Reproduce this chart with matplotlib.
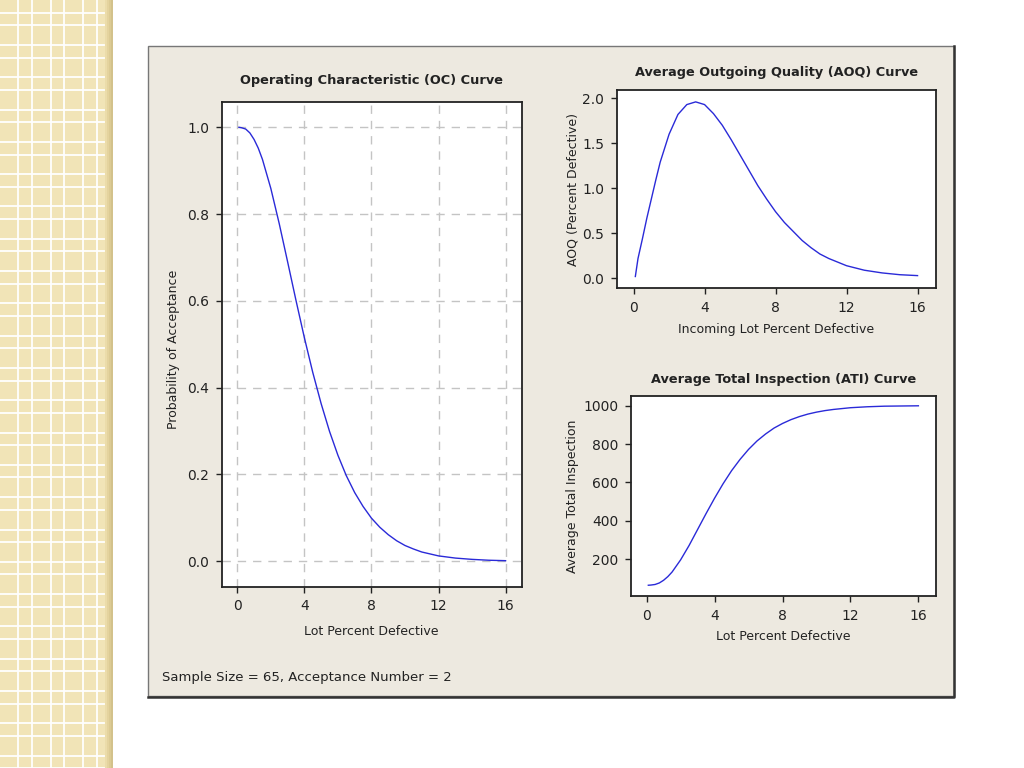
import numpy as np
import matplotlib
matplotlib.use("Agg")
import matplotlib.pyplot as plt
from matplotlib.patches import Rectangle

# Acceptance sampling plan: n = 65, c = 2, lot size 1000
lot_pct = [0.1, 0.25, 0.5, 0.75, 1, 1.25, 1.5, 2, 2.5, 3, 3.5, 4, 4.5, 5, 5.5,
           6, 6.5, 7, 7.5, 8, 8.5, 9, 9.5, 10, 10.5, 11, 12, 13, 14, 15, 16]
prob_accept = [1.000, 0.999, 0.996, 0.987, 0.972, 0.952, 0.926, 0.859, 0.778,
               0.690, 0.601, 0.515, 0.435, 0.363, 0.299, 0.244, 0.197, 0.158,
               0.126, 0.099, 0.078, 0.061, 0.047, 0.036, 0.028, 0.021, 0.012,
               0.007, 0.004, 0.002, 0.001]
aoq = [0.02, 0.22, 0.44, 0.67, 0.88, 1.09, 1.29, 1.60, 1.82, 1.93, 1.96, 1.93,
       1.83, 1.70, 1.54, 1.37, 1.20, 1.03, 0.88, 0.74, 0.62, 0.52, 0.42, 0.34,
       0.27, 0.22, 0.14, 0.09, 0.06, 0.04, 0.03]
ati = [65, 66, 69, 77, 91, 110, 134, 197, 272, 355, 438, 518, 593, 661, 720,
       772, 816, 852, 883, 907, 927, 943, 956, 966, 974, 980, 989, 994, 997,
       998, 999]

x_ticks = [0, 4, 8, 12, 16]
oc_yticks = [0.0, 0.2, 0.4, 0.6, 0.8, 1.0]
aoq_yticks = [0.0, 0.5, 1.0, 1.5, 2.0]
ati_yticks = [200, 400, 600, 800, 1000]

W, H = 1024, 768
line_col = "#2a2ad8"
text_col = "#222222"

fig = plt.figure(figsize=(W / 100, H / 100), dpi=100, facecolor="white")

# background decorations in pixel coords
bg = fig.add_axes([0, 0, 1, 1], zorder=-5)
bg.set_xlim(0, W)
bg.set_ylim(H, 0)
bg.axis("off")

# beige checkered stripe on the left
bg.add_patch(Rectangle((0, 0), 113, H, facecolor="#f1e4b7", edgecolor="none"))
for k, c in enumerate(["#ebdcaa", "#e4d39e", "#dccb94", "#d3c28b"]):
    bg.add_patch(Rectangle((105 + k * 2, 0), 2, H, facecolor=c, edgecolor="none"))
for x0 in np.arange(0, 113, 32.4):
    for off in (18.3, 31.7):
        if x0 + off < 104:
            bg.plot([x0 + off, x0 + off], [0, H], color="white", lw=1.3)
for y0 in np.arange(-32.3, H, 32.3):
    for off in (12.7, 25.3):
        bg.plot([0, 104], [y0 + off, y0 + off], color="white", lw=1.3)

# panel
bg.add_patch(Rectangle((148, 46), 806, 650, facecolor="#ede9e0",
                       edgecolor="#777777", lw=1.0))
bg.plot([148, 954, 954], [696.5, 696.5, 46], color="#333333", lw=1.8)


def style_axes(ax):
    ax.set_facecolor("white")
    for s in ax.spines.values():
        s.set_color("#222222")
        s.set_linewidth(1.3)
    ax.tick_params(direction="out", length=4, width=1, colors="#222222",
                   labelsize=10, pad=5, labelcolor=text_col)


# OC curve
ax1 = fig.add_axes([221.7 / W, 1 - 586.7 / H, 300 / W, 485 / H])
style_axes(ax1)
ax1.plot(lot_pct, prob_accept, color=line_col, lw=1.0)
ax1.set_xlim(-0.93, 16.96)
ax1.set_ylim(-0.059, 1.059)
ax1.set_xticks(x_ticks)
ax1.set_yticks(oc_yticks)
ax1.set_yticklabels([f"{v:.1f}" for v in oc_yticks])
ax1.grid(True, color="#c4c4c4", linestyle=(0, (6, 5)), lw=1.0)
ax1.set_axisbelow(True)
ax1.set_title("Operating Characteristic (OC) Curve", fontsize=9.3,
              fontweight="bold", color=text_col, pad=13)
ax1.set_xlabel("Lot Percent Defective", fontsize=9, color=text_col)
ax1.xaxis.set_label_coords(0.5, -0.079)
ax1.set_ylabel("Probability of Acceptance", fontsize=9, color=text_col)
ax1.yaxis.set_label_coords(-0.139, 0.49)

# AOQ curve
ax2 = fig.add_axes([616.7 / W, 1 - 288.3 / H, 319.3 / W, 198.3 / H])
style_axes(ax2)
ax2.plot(lot_pct, aoq, color=line_col, lw=1.0)
ax2.set_xlim(-0.95, 17.04)
ax2.set_ylim(-0.111, 2.092)
ax2.set_xticks(x_ticks)
ax2.set_yticks(aoq_yticks)
ax2.set_yticklabels([f"{v:.1f}" for v in aoq_yticks])
ax2.set_title("Average Outgoing Quality (AOQ) Curve", fontsize=9.3,
              fontweight="bold", color=text_col, pad=10)
ax2.set_xlabel("Incoming Lot Percent Defective", fontsize=9, color=text_col)
ax2.xaxis.set_label_coords(0.5, -0.175)
ax2.set_ylabel("AOQ (Percent Defective)", fontsize=9, color=text_col)
ax2.yaxis.set_label_coords(-0.118, 0.5)

# ATI curve
ax3 = fig.add_axes([631 / W, 1 - 596 / H, 304.7 / W, 200 / H])
style_axes(ax3)
ax3.plot(lot_pct, ati, color=line_col, lw=1.0)
ax3.set_xlim(-0.92, 17.02)
ax3.set_ylim(9, 1050)
ax3.set_xticks(x_ticks)
ax3.set_yticks(ati_yticks)
ax3.set_title("Average Total Inspection (ATI) Curve", fontsize=9.3,
              fontweight="bold", color=text_col, pad=9)
ax3.set_xlabel("Lot Percent Defective", fontsize=9, color=text_col)
ax3.xaxis.set_label_coords(0.5, -0.17)
ax3.set_ylabel("Average Total Inspection", fontsize=9, color=text_col)
ax3.yaxis.set_label_coords(-0.171, 0.5)

fig.text(162 / W, 1 - 677 / H, "Sample Size = 65, Acceptance Number = 2",
         fontsize=9.5, color=text_col, va="center", ha="left")

fig.savefig("out.png", dpi=100, facecolor="white")
